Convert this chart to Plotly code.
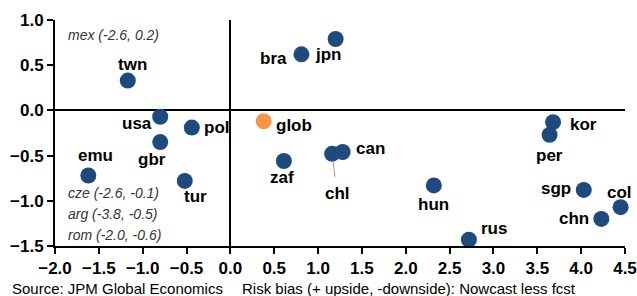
import plotly.graph_objects as go

countries = ["twn", "usa", "pol", "gbr", "bra", "jpn", "kor", "per", "emu", "tur",
             "zaf", "chl", "can", "hun", "rus", "sgp", "chn", "col"]
risk_bias = [-1.17, -0.80, -0.44, -0.80, 0.81, 1.20, 3.68, 3.64, -1.62, -0.52,
             0.61, 1.16, 1.28, 2.32, 2.72, 4.03, 4.23, 4.45]
nowcast_gap = [0.33, -0.07, -0.19, -0.35, 0.62, 0.79, -0.13, -0.27, -0.72, -0.78,
               -0.56, -0.48, -0.46, -0.83, -1.43, -0.88, -1.20, -1.07]
glob_name = ["glob"]
glob_x = [0.38]
glob_y = [-0.12]

offscale_notes = ["mex (-2.6, 0.2)", "cze (-2.6, -0.1)", "arg (-3.8, -0.5)", "rom (-2.0, -0.6)"]
source_text = "Source: JPM Global Economics"
x_title = "Risk bias (+ upside, -downside): Nowcast less fcst"

# label pixel offsets (dx right, dy down)
label_offsets = {
    "twn": (5, -16), "usa": (-23, 7), "pol": (25, 0), "gbr": (-8, 17),
    "bra": (-28, 4), "jpn": (-7, 16), "kor": (30, 2), "per": (0, 21),
    "emu": (7, -20), "tur": (11, 16), "zaf": (-2, 16), "can": (28, -3),
    "hun": (0, 19), "rus": (25, -11), "sgp": (-28, -1), "chn": (-27, 0),
    "col": (-1, -15), "glob": (30, 4),
}

BLUE = "#1f4a7e"
ORANGE = "#f79646"
FONT = "Liberation Sans, Arial, sans-serif"

fig = go.Figure()
fig.add_trace(go.Scatter(x=risk_bias, y=nowcast_gap, mode="markers",
                         marker=dict(size=16, color=BLUE), hoverinfo="skip", showlegend=False,
                         cliponaxis=False))
fig.add_trace(go.Scatter(x=glob_x, y=glob_y, mode="markers",
                         marker=dict(size=16, color=ORANGE), hoverinfo="skip", showlegend=False,
                         cliponaxis=False))

anns = []
for name, x, y in list(zip(countries, risk_bias, nowcast_gap)) + list(zip(glob_name, glob_x, glob_y)):
    if name == "chl":
        anns.append(dict(x=x, y=y, xref="x", yref="y", text="<b>chl</b>", showarrow=True,
                         ax=5, ay=40, arrowhead=0, arrowwidth=1, arrowcolor="#999999",
                         standoff=7, startstandoff=6,
                         font=dict(family=FONT, size=17, color="black")))
        continue
    dx, dy = label_offsets[name]
    anns.append(dict(x=x, y=y, xref="x", yref="y", text=f"<b>{name}</b>", showarrow=False,
                     xshift=dx, yshift=-dy, font=dict(family=FONT, size=17, color="black")))

# off-scale notes
anns.append(dict(x=-1.88, y=0.83, xref="x", yref="y", text=f"<i>{offscale_notes[0]}</i>",
                 showarrow=False, xanchor="left", font=dict(family=FONT, size=14, color="#333333")))
for i, t in enumerate(offscale_notes[1:]):
    anns.append(dict(x=-1.88, y=-0.91 - i * 0.235, xref="x", yref="y", text=f"<i>{t}</i>",
                     showarrow=False, xanchor="left",
                     font=dict(family=FONT, size=14, color="#333333")))

# footer
anns.append(dict(x=-0.079, y=-0.19, xref="paper", yref="paper", text=source_text,
                 showarrow=False, xanchor="left", yanchor="middle",
                 font=dict(family=FONT, size=15, color="black")))
anns.append(dict(x=0.325, y=-0.19, xref="paper", yref="paper", text=x_title,
                 showarrow=False, xanchor="left", yanchor="middle",
                 font=dict(family=FONT, size=15, color="black")))

fig.update_layout(
    width=637, height=296,
    margin=dict(l=55, r=12, t=20, b=50, autoexpand=False),
    paper_bgcolor="white", plot_bgcolor="white",
    annotations=anns,
    font=dict(family=FONT, color="black"),
    xaxis=dict(range=[-2, 4.5], dtick=0.5, tick0=-2, tickformat=".1f", showgrid=False,
               zeroline=True, zerolinecolor="black", zerolinewidth=2,
               showline=True, linecolor="black", linewidth=2,
               ticks="outside", ticklen=6, tickwidth=2, tickcolor="black",
               tickfont=dict(family=FONT, size=17, color="black", weight="bold")),
    yaxis=dict(range=[-1.5, 1.0], dtick=0.5, tick0=-1.5, tickformat=".1f", showgrid=False,
               zeroline=True, zerolinecolor="black", zerolinewidth=2,
               showline=True, linecolor="black", linewidth=2,
               ticks="outside", ticklen=6, tickwidth=2, tickcolor="black",
               tickfont=dict(family=FONT, size=17, color="black", weight="bold")),
)

fig.write_html("out.html", config={"displayModeBar": False},
               post_script="document.body.style.margin='0';document.body.style.overflow='hidden';")
